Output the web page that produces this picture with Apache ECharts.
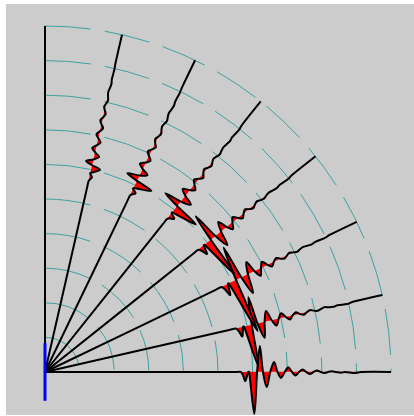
<!DOCTYPE html>
<html><head><meta charset="utf-8">
<script src="https://cdn.jsdelivr.net/npm/echarts@6/dist/echarts.min.js"></script>
<style>
html,body{margin:0;padding:0;background:#ffffff;width:414px;height:416px;overflow:hidden}
#c{position:absolute;left:6px;top:4px;width:408px;height:411px}
</style>
</head><body><div id="c"></div>
<script>
// ---- data (radius / offsets in arc-spacing units) ----
const traceAngles = [0, 12.86, 25.71, 38.57, 51.43, 64.29, 77.14, 90];
const sampleRadius = [5.49,5.66,5.72,5.79,5.87,5.90,6.05,6.13,6.21,6.30,6.41,6.51,6.62,6.72,6.82,6.93,7.03,7.14,7.24,7.34,7.45,7.55,7.66,7.76,7.86,7.97,8.07,8.18,8.29,8.41,8.55,8.67,8.96,9.13];
const trace0 = [0,0,-0.09,-0.26,0,0,-1.21,0,0.75,0,-0.43,0,0.29,0,-0.17,0,0.14,0,-0.10,0,0.07,0,-0.06,0,0.04,0,-0.03,0,0.02,0,-0.02,0,-0.03,0];
const trace1 = [0,0,-0.09,-0.27,0,0,-1.20,0,0.80,0,-0.45,0,0.30,0,-0.18,0,0.14,0,-0.10,0,0.07,0,-0.05,0,0.04,0,-0.03,0,0.03,0,-0.02,0,-0.03,0];
const trace2 = [0,0,-0.10,-0.32,0,0,-1.60,0,1.00,0,-0.55,0,0.34,0,-0.20,0,0.15,0,-0.10,0,0.07,0,-0.05,0,0.04,0,-0.03,0,0.02,0,-0.02,0,-0.02,0];
const trace3 = [0,0,-0.08,-0.25,0,0,-1.20,0,0.80,0,-0.42,0,0.27,0,-0.16,0,0.12,0,-0.09,0,0.07,0,-0.05,0,0.04,0,-0.03,0,0.02,0,-0.02,0,-0.02,0];
const trace4 = [0,0,-0.06,-0.16,0,0,-0.75,0,0.50,0,-0.28,0,0.19,0,-0.12,0,0.10,0,-0.08,0,0.06,0,-0.05,0,0.04,0,-0.03,0,0.02,0,-0.02,0,-0.02,0];
const trace5 = [0,0,-0.04,-0.12,0,0,-0.50,0,0.35,0,-0.20,0,0.14,0,-0.10,0,0.09,0,-0.07,0,0.05,0,-0.04,0,0.03,0,-0.03,0,0.02,0,-0.02,0,-0.01,0];
const trace6 = [0,0,-0.03,-0.07,0,0,-0.25,0,0.20,0,-0.14,0,0.11,0,-0.09,0,0.08,0,-0.07,0,0.06,0,-0.05,0,0.04,0,-0.03,0,0.02,0,-0.02,0,-0.01,0];
const trace7 = [0,0,0,0,0,0,0,0,0,0,0,0,0,0,0,0,0,0,0,0,0,0,0,0,0,0,0,0,0,0,0,0,0,0];
const traces = [trace0, trace1, trace2, trace3, trace4, trace5, trace6, trace7];
const arcRadii = [1,2,3,4,5,6,7,8,9,10];
const traceLength = 10;
const sourceBar = [-0.83, 0.83];

// ---- layout ----
const UNIT = 34.6;           // px per unit
const ORIGIN_X = 39, ORIGIN_Y = 368; // inside chart container
const X_MIN = -1, X_MAX = 10.5, Y_MIN = -1, Y_MAX = 10.5;
const gLeft = ORIGIN_X + X_MIN * UNIT;
const gWidth = (X_MAX - X_MIN) * UNIT;
const gBottomPx = ORIGIN_Y - Y_MIN * UNIT;
const gHeight = (Y_MAX - Y_MIN) * UNIT;

function renderArc(params, api) {
  const r = api.value(0);
  const c = api.coord([0, 0]);
  const rp = api.size([r, 0])[0];
  return {
    type: 'arc',
    shape: { cx: c[0], cy: c[1], r: rp, startAngle: -Math.PI / 2, endAngle: 0, clockwise: true },
    style: { stroke: '#3ea1a1', fill: null, lineWidth: 1, lineDash: [46, 14] }
  };
}

function renderTrace(params, api) {
  const i = api.value(0);
  const th = traceAngles[i] * Math.PI / 180;
  const c = Math.cos(th), s = Math.sin(th);
  const vals = traces[i];
  const toPx = (r, d) => api.coord([r * c - d * s, r * s + d * c]);
  const wave = sampleRadius.map((r, k) => toPx(r, vals[k]));
  const full = [toPx(0, 0)].concat(wave, [toPx(traceLength, 0)]);
  return {
    type: 'group',
    children: [
      { type: 'polygon', shape: { points: wave, smooth: 0.3 }, style: { fill: '#ff0000', stroke: null } },
      { type: 'polyline', shape: { points: full, smooth: 0.3 }, style: { fill: null, stroke: '#000000', lineWidth: 2 } }
    ]
  };
}

const chart = echarts.init(document.getElementById('c'), null, { renderer: 'canvas' });
chart.setOption({
  animation: false,
  backgroundColor: '#cccccc',
  grid: { left: gLeft, width: gWidth, top: gBottomPx - gHeight, height: gHeight },
  xAxis: { type: 'value', min: X_MIN, max: X_MAX, show: false },
  yAxis: { type: 'value', min: Y_MIN, max: Y_MAX, show: false },
  series: [
    { type: 'custom', z: 1, renderItem: renderArc, data: arcRadii.map(r => [r]), clip: false, silent: true },
    { type: 'custom', z: 2, renderItem: renderTrace, data: traces.map((t, i) => [i]), clip: false, silent: true },
    { type: 'line', z: 3, data: [[0, sourceBar[0]], [0, sourceBar[1]]], symbol: 'none',
      lineStyle: { color: '#0000ff', width: 3 }, silent: true }
  ]
});
</script>
</body></html>
